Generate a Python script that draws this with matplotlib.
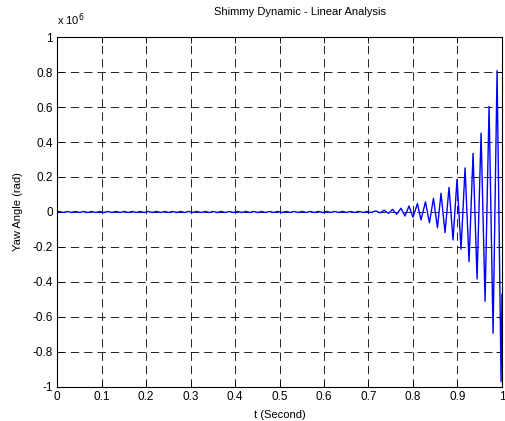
import matplotlib
matplotlib.use('Agg')
import matplotlib.pyplot as plt
import numpy as np

# extrema (yaw angle in units of 1e6 rad)
t_early = [0.0, 0.005, 0.014, 0.023, 0.032, 0.041, 0.051, 0.060, 0.069, 0.078, 0.087,
           0.096, 0.105, 0.114, 0.123, 0.132, 0.142, 0.151, 0.160, 0.169, 0.178,
           0.187, 0.196, 0.205, 0.214, 0.223, 0.233, 0.242, 0.251, 0.260, 0.269,
           0.278, 0.287, 0.296, 0.305, 0.314, 0.324, 0.333, 0.342, 0.351, 0.360,
           0.369, 0.378, 0.387, 0.396, 0.405, 0.415, 0.424, 0.433, 0.442, 0.451,
           0.460, 0.469, 0.478, 0.487, 0.496, 0.506, 0.515, 0.524, 0.533, 0.542,
           0.551, 0.560, 0.569, 0.578, 0.587, 0.597, 0.606, 0.615, 0.624, 0.633,
           0.642, 0.651, 0.660, 0.669, 0.678, 0.688, 0.697, 0.706]
y_early = [0.0] + [0.003, -0.003] * 39

t_growth = [0.716, 0.726, 0.735, 0.745, 0.754, 0.763, 0.773, 0.782, 0.791, 0.800,
            0.810, 0.818, 0.828, 0.837, 0.846, 0.855, 0.863, 0.872, 0.881, 0.890,
            0.899, 0.908, 0.917, 0.926, 0.935, 0.944, 0.953, 0.962, 0.971, 0.980,
            0.989, 0.998, 1.000]
y_growth = [0.006, -0.005, 0.010, -0.008, 0.015, -0.013, 0.021, -0.023, 0.034, -0.030,
            0.048, -0.046, 0.058, -0.062, 0.078, -0.090, 0.107, -0.118, 0.140, -0.160,
            0.187, -0.213, 0.252, -0.284, 0.335, -0.383, 0.450, -0.510, 0.604, -0.693,
            0.808, -0.970, -0.470]

t = np.array(t_early + t_growth)
yaw = np.array(y_early + y_growth)

x_ticks = [0, 0.1, 0.2, 0.3, 0.4, 0.5, 0.6, 0.7, 0.8, 0.9, 1]
x_labels = ['0', '0.1', '0.2', '0.3', '0.4', '0.5', '0.6', '0.7', '0.8', '0.9', '1']
y_ticks = [-1, -0.8, -0.6, -0.4, -0.2, 0, 0.2, 0.4, 0.6, 0.8, 1]
y_labels = ['-1', '-0.8', '-0.6', '-0.4', '-0.2', '0', '0.2', '0.4', '0.6', '0.8', '1']

plt.rcParams['font.family'] = ['Liberation Sans', 'DejaVu Sans']
plt.rcParams['font.size'] = 8

fig = plt.figure(figsize=(5.05, 4.21), dpi=100)
ax = fig.add_axes([0.113, 0.081, 0.881, 0.831])

ax.plot(t, yaw, color='#0000ff', linewidth=1.0)

ax.set_xlim(0, 1)
ax.set_ylim(-1, 1)
ax.set_xticks(x_ticks)
ax.set_xticklabels(x_labels)
ax.set_yticks(y_ticks)
ax.set_yticklabels(y_labels)
ax.tick_params(direction='in', length=4, width=0.6, top=True, right=True,
               labelsize=8.5, pad=3, colors='black')
ax.grid(True, color='black', linestyle=(0, (10, 6)), linewidth=0.6)
for s in ax.spines.values():
    s.set_linewidth(0.8)

ax.set_title('Shimmy Dynamic - Linear Analysis', fontsize=8, x=0.545, pad=16)
ax.set_xlabel('t (Second)', fontsize=8, labelpad=5)
ax.set_ylabel('Yaw Angle (rad)', fontsize=8, labelpad=7)
ax.text(0.0, 1.025, 'x 10$^6$', transform=ax.transAxes, fontsize=8,
        ha='left', va='bottom')

fig.savefig('out.png', dpi=100)
